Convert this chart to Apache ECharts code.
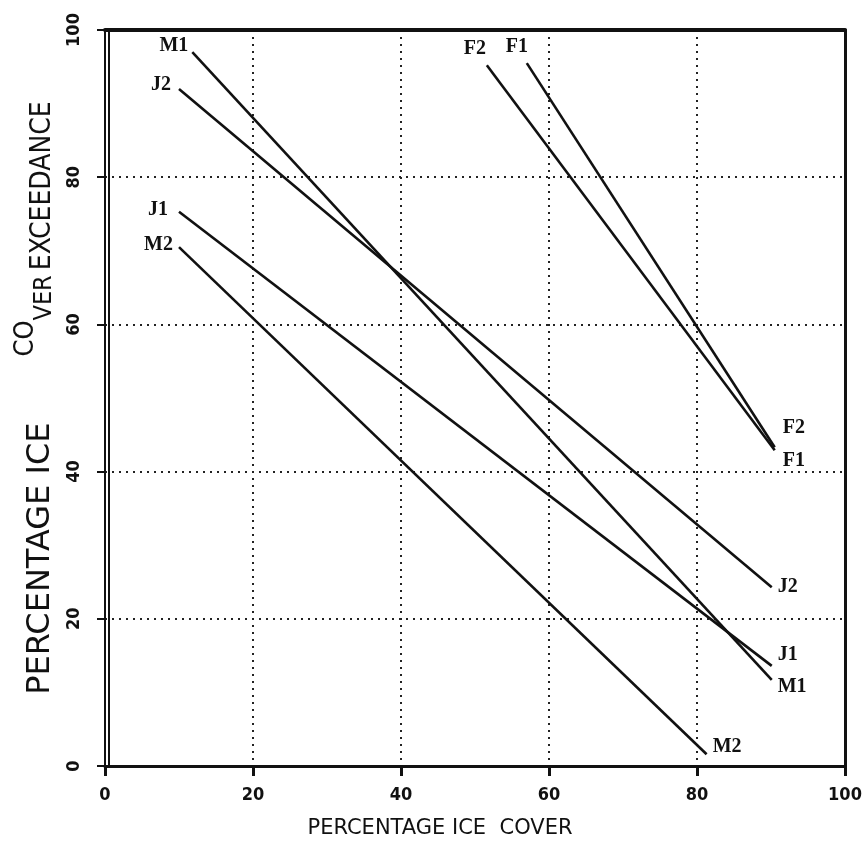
<!DOCTYPE html>
<html>
<head>
<meta charset="utf-8">
<script src="https://cdn.jsdelivr.net/npm/echarts@6/dist/echarts.min.js"></script>
<style>
  html, body { margin: 0; padding: 0; background: #fff; }
  #chart { width: 867px; height: 852px; }
</style>
</head>
<body>
<div id="chart"></div>
<script>
// line names and end points (percent ice cover / exceedance)
const lineNames = ['M1', 'J2', 'J1', 'M2', 'F2', 'F1']
const startX = [11.8, 10.0, 10.0, 10.0, 51.6, 57.0]
const startY = [97.0, 92.0, 75.3, 70.5, 95.2, 95.5]
const endX = [90.1, 90.1, 90.1, 81.3, 90.5, 90.5]
const endY = [11.7, 24.3, 13.6, 1.6, 42.9, 43.3]
const xTicks = [0, 20, 40, 60, 80, 100]
const yTicks = [0, 20, 40, 60, 80, 100]

// label placement for start / end of each line
const startPos = ['left', 'left', 'left', 'left', 'top', 'top']
const startOff = [[0, -6], [-4, -4], [-7, -2], [-2, -2], [-12, -2], [-10, -2]]
const endPos = ['right', 'right', 'right', 'right', 'right', 'right']
const endOff = [[0, 7], [0, 0], [0, -11], [0, -7], [2, -22], [2, 14]]

const lblFont = {
  fontFamily: 'Liberation Serif',
  fontWeight: 'bold',
  fontSize: 20,
  color: '#111'
}

let chart = echarts.init(document.getElementById('chart'))

let series = lineNames.map((name, i) => ({
  name: name,
  type: 'line',
  xAxisIndex: 0,
  yAxisIndex: 0,
  symbol: 'circle',
  symbolSize: 0.01,
  showSymbol: true,
  lineStyle: { color: '#111', width: 2.6 },
  itemStyle: { color: '#111' },
  animation: false,
  data: [
    {
      value: [startX[i], startY[i]],
      label: Object.assign({ show: true, formatter: name, position: startPos[i], distance: 4, offset: startOff[i] }, lblFont)
    },
    {
      value: [endX[i], endY[i]],
      label: Object.assign({ show: true, formatter: name, position: endPos[i], distance: 6, offset: endOff[i] }, lblFont)
    }
  ]
}))

let tickFont = {
  fontFamily: 'DejaVu Sans Condensed',
  fontWeight: 'bold',
  fontSize: 18,
  color: '#111'
}

// dotted grid, no line on the frame itself
let gridLine = { show: true, lineStyle: { color: '#222', type: [2, 5], width: 2 } }

let options = {
  backgroundColor: '#fff',
  animation: false,
  grid: { left: 105, right: 22, top: 30, bottom: 86 },
  xAxis: [
    {
      type: 'value',
      min: 0,
      max: 100,
      interval: 20,
      position: 'bottom',
      axisLine: { show: true, onZero: false, lineStyle: { color: '#111', width: 3 } },
      axisTick: { show: true, length: 10, lineStyle: { color: '#111', width: 3 } },
      axisLabel: Object.assign({ margin: 20, formatter: v => xTicks.includes(v) ? String(v) : '' }, tickFont),
      splitLine: gridLine,
      name: 'PERCENTAGE ICE  COVER',
      nameLocation: 'middle',
      nameGap: 52,
      nameTextStyle: {
        fontFamily: 'DejaVu Sans',
        fontSize: 21,
        color: '#111',
        padding: [0, 70, 0, 0]
      }
    },
    {
      type: 'value',
      min: 0,
      max: 100,
      position: 'top',
      axisLine: { show: true, onZero: false, lineStyle: { color: '#111', width: 4 } },
      axisTick: { show: false },
      axisLabel: { show: false },
      splitLine: { show: false }
    }
  ],
  yAxis: [
    {
      type: 'value',
      min: 0,
      max: 100,
      interval: 20,
      position: 'left',
      axisLine: { show: true, onZero: false, lineStyle: { color: '#111', width: 2 } },
      axisTick: { show: true, length: 8, lineStyle: { color: '#111', width: 2 } },
      axisLabel: Object.assign({ margin: 22, rotate: 90, formatter: v => yTicks.includes(v) ? String(v) : '' }, tickFont),
      splitLine: gridLine,
      name: '{a|PERCENTAGE ICE}{gap| }{b|CO}{c|VER}{sp| }{d|EXCEEDANCE}',
      nameLocation: 'middle',
      nameGap: 48,
      nameRotate: 90,
      nameTextStyle: {
        color: '#111',
        rich: {
          a: { fontFamily: 'DejaVu Sans', fontSize: 32, color: '#111', verticalAlign: 'bottom', lineHeight: 32 },
          gap: { width: 66, fontSize: 20, lineHeight: 32 },
          b: { fontFamily: 'DejaVu Sans Condensed', fontSize: 27, color: '#111', verticalAlign: 'bottom', lineHeight: 32, padding: [0, 0, 18, 0] },
          c: { fontFamily: 'DejaVu Sans Condensed', fontSize: 25, color: '#111', verticalAlign: 'bottom', lineHeight: 32 },
          sp: { width: 5, fontSize: 20, lineHeight: 32 },
          d: { fontFamily: 'DejaVu Sans Condensed', fontSize: 28, color: '#111', verticalAlign: 'bottom', lineHeight: 32 }
        }
      }
    },
    {
      type: 'value',
      min: 0,
      max: 100,
      position: 'left',
      offset: -4,
      axisLine: { show: true, onZero: false, lineStyle: { color: '#111', width: 2 } },
      axisTick: { show: false },
      axisLabel: { show: false },
      splitLine: { show: false }
    },
    {
      type: 'value',
      min: 0,
      max: 100,
      position: 'right',
      axisLine: { show: true, onZero: false, lineStyle: { color: '#111', width: 3 } },
      axisTick: { show: false },
      axisLabel: { show: false },
      splitLine: { show: false }
    }
  ],
  series: series
}

chart.setOption(options, true)
window.onresize = chart.resize
</script>
</body>
</html>
